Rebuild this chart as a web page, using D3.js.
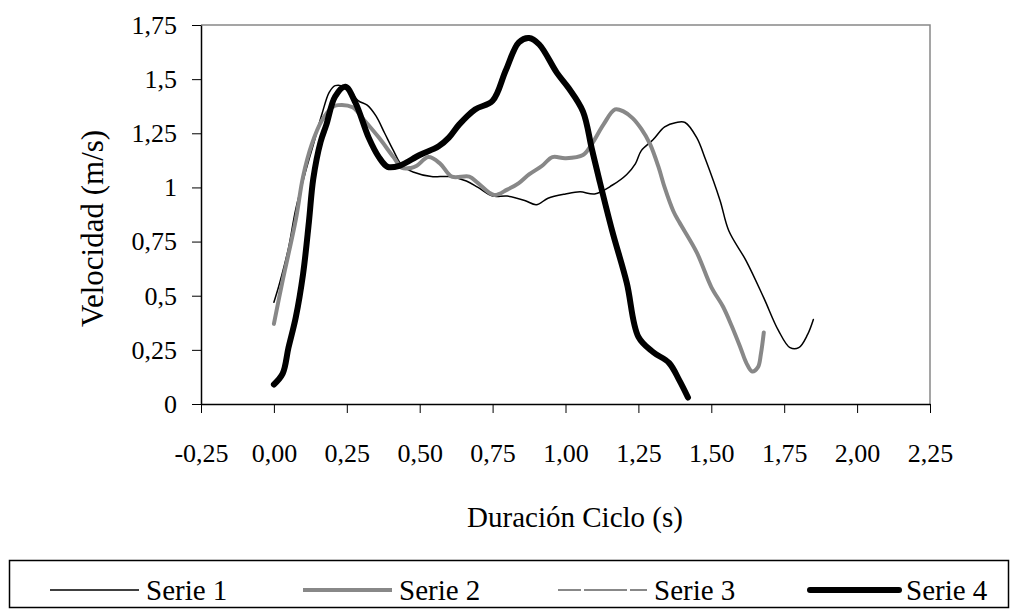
<!DOCTYPE html>
<html>
<head>
<meta charset="utf-8">
<script src="https://cdn.jsdelivr.net/npm/d3@7"></script>
<style>
    html, body { margin: 0; padding: 0; background: #fff; }
    svg { display: block; font-family: "Liberation Serif", "Times New Roman", serif; }
    .axis { font-family: "Liberation Serif", "Times New Roman", serif; }
    .axis path, .axis line { stroke: #000; }
    .axis text { fill: #000; font-size: 26px; }
</style>
</head>
<body>
<div id="chart"></div>
<script>
// ciclo de marcha: [duración (s), velocidad (m/s)]
const serie1 = [
    [0.00, 0.47], [0.02, 0.56], [0.05, 0.72], [0.075, 0.90], [0.11, 1.08], [0.14, 1.22],
    [0.165, 1.34], [0.19, 1.44], [0.21, 1.47], [0.25, 1.46], [0.29, 1.40], [0.32, 1.38],
    [0.35, 1.33], [0.38, 1.25], [0.41, 1.17], [0.44, 1.10], [0.48, 1.07], [0.54, 1.05],
    [0.60, 1.05], [0.66, 1.03], [0.70, 1.00], [0.75, 0.96], [0.80, 0.96], [0.86, 0.94],
    [0.90, 0.92], [0.94, 0.95], [1.00, 0.97], [1.05, 0.98], [1.10, 0.97], [1.16, 1.01],
    [1.21, 1.06], [1.24, 1.11], [1.26, 1.17], [1.30, 1.22], [1.34, 1.28], [1.38, 1.30],
    [1.41, 1.30], [1.45, 1.23], [1.48, 1.13], [1.53, 0.94], [1.56, 0.80], [1.62, 0.66],
    [1.68, 0.49], [1.73, 0.34], [1.77, 0.26], [1.80, 0.26], [1.83, 0.32], [1.85, 0.39]
];

const serie2 = [
    [0.00, 0.37], [0.03, 0.57], [0.075, 0.85], [0.10, 1.05], [0.13, 1.20], [0.165, 1.31],
    [0.20, 1.37], [0.22, 1.38], [0.27, 1.37], [0.31, 1.31], [0.36, 1.23], [0.41, 1.14],
    [0.44, 1.09], [0.47, 1.09], [0.49, 1.10], [0.53, 1.14], [0.57, 1.11], [0.61, 1.05],
    [0.67, 1.05], [0.70, 1.02], [0.755, 0.965], [0.80, 0.99], [0.84, 1.02], [0.875, 1.06],
    [0.92, 1.10], [0.955, 1.14], [1.00, 1.135], [1.06, 1.15], [1.09, 1.20], [1.13, 1.29],
    [1.17, 1.36], [1.20, 1.35], [1.23, 1.32], [1.26, 1.27], [1.29, 1.20], [1.32, 1.09],
    [1.34, 1.00], [1.37, 0.89], [1.39, 0.84], [1.45, 0.70], [1.50, 0.54], [1.54, 0.45],
    [1.57, 0.36], [1.60, 0.26], [1.62, 0.19], [1.64, 0.15], [1.66, 0.17], [1.67, 0.23],
    [1.68, 0.33]
];

// la serie 3 queda tapada por la serie 2 en el gráfico
const serie3 = [
    [0.00, 0.37], [0.03, 0.57], [0.075, 0.85], [0.10, 1.05], [0.13, 1.20], [0.165, 1.31],
    [0.20, 1.37], [0.22, 1.38], [0.27, 1.37], [0.31, 1.31], [0.36, 1.23], [0.41, 1.14],
    [0.44, 1.09], [0.47, 1.09], [0.49, 1.10], [0.53, 1.14], [0.57, 1.11], [0.61, 1.05],
    [0.67, 1.05], [0.70, 1.02], [0.755, 0.965], [0.80, 0.99], [0.84, 1.02], [0.875, 1.06],
    [0.92, 1.10], [0.955, 1.14], [1.00, 1.135], [1.06, 1.15], [1.09, 1.20], [1.13, 1.29],
    [1.17, 1.36], [1.20, 1.35], [1.23, 1.32], [1.26, 1.27], [1.29, 1.20], [1.32, 1.09],
    [1.34, 1.00], [1.37, 0.89], [1.39, 0.84], [1.45, 0.70], [1.50, 0.54], [1.54, 0.45],
    [1.57, 0.36], [1.60, 0.26], [1.62, 0.19], [1.64, 0.15], [1.66, 0.17], [1.67, 0.23],
    [1.68, 0.33]
];

const serie4 = [
    [0.00, 0.09], [0.03, 0.14], [0.05, 0.26], [0.075, 0.40], [0.10, 0.60], [0.12, 0.84],
    [0.135, 1.04], [0.16, 1.21], [0.18, 1.29], [0.21, 1.42], [0.245, 1.465], [0.28, 1.39],
    [0.325, 1.23], [0.36, 1.14], [0.39, 1.095], [0.43, 1.10], [0.50, 1.15], [0.565, 1.19],
    [0.60, 1.23], [0.635, 1.29], [0.69, 1.36], [0.75, 1.40], [0.795, 1.54], [0.84, 1.67],
    [0.875, 1.69], [0.91, 1.66], [0.97, 1.53], [1.01, 1.46], [1.06, 1.35], [1.09, 1.18],
    [1.115, 1.04], [1.16, 0.80], [1.21, 0.56], [1.25, 0.31], [1.30, 0.24], [1.355, 0.19],
    [1.39, 0.11], [1.42, 0.03]
];

const seriesNames = ['Serie 1', 'Serie 2', 'Serie 3', 'Serie 4'];
const xTicks = [-0.25, 0, 0.25, 0.5, 0.75, 1, 1.25, 1.5, 1.75, 2, 2.25];
const yTicks = [0, 0.25, 0.5, 0.75, 1, 1.25, 1.5, 1.75];

const width = 1018;
const height = 612;
const plot = { left: 201, right: 930, top: 25, bottom: 404 };

const styles = [
    { color: '#000', width: 1.5, dash: null },
    { color: '#888', width: 4, dash: null },
    { color: '#888', width: 2, dash: '43 3' },
    { color: '#000', width: 6, dash: null }
];

const es = d3.formatLocale({ decimal: ',', thousands: '.', grouping: [3], currency: ['', ' €'], minus: '-' });

const svg = d3.select('#chart')
    .append('svg')
    .attr('width', width)
    .attr('height', height);

const x = d3.scaleLinear()
    .domain([-0.25, 2.25])
    .range([plot.left, plot.right]);

const y = d3.scaleLinear()
    .domain([0, 1.75])
    .range([plot.bottom, plot.top]);

// borde superior y derecho del área de trazado
svg.append('path')
    .attr('d', `M${plot.left},${plot.top}H${plot.right}V${plot.bottom}`)
    .attr('fill', 'none')
    .attr('stroke', '#888')
    .attr('stroke-width', 1.5);

svg.append('g')
    .attr('class', 'axis')
    .attr('transform', `translate(0,${plot.bottom})`)
    .call(d3.axisBottom(x).tickValues(xTicks).tickSize(9).tickSizeOuter(0).tickPadding(31).tickFormat(es.format('.2f')))
    .call(g => g.attr('font-family', null).attr('font-size', null))
    .call(g => g.select('.domain').attr('stroke-width', 1.5));

svg.append('g')
    .attr('class', 'axis')
    .attr('transform', `translate(${plot.left},0)`)
    .call(d3.axisLeft(y).tickValues(yTicks).tickSize(9).tickSizeOuter(0).tickPadding(15).tickFormat(es.format('~g')))
    .call(g => g.attr('font-family', null).attr('font-size', null))
    .call(g => g.select('.domain').attr('stroke-width', 1.5));

const line = d3.line()
    .curve(d3.curveCatmullRom.alpha(0.5))
    .x(d => x(d[0]))
    .y(d => y(d[1]));

[serie1, serie2, serie3, serie4].forEach((data, i) => {
    svg.append('path')
        .datum(data)
        .attr('fill', 'none')
        .attr('stroke', styles[i].color)
        .attr('stroke-width', styles[i].width)
        .attr('stroke-dasharray', styles[i].dash)
        .attr('stroke-linejoin', 'round')
        .attr('stroke-linecap', 'round')
        .attr('d', line);
});

svg.append('text')
    .attr('x', 575)
    .attr('y', 527)
    .attr('text-anchor', 'middle')
    .attr('font-size', 29)
    .text('Duración Ciclo (s)');

svg.append('clipPath')
    .attr('id', 'ytitle-clip')
    .append('rect')
    .attr('x', 0)
    .attr('y', 131)
    .attr('width', plot.left)
    .attr('height', height);

svg.append('g')
    .attr('clip-path', 'url(#ytitle-clip)')
    .append('text')
    .attr('transform', 'translate(103,327) rotate(-90)')
    .attr('font-size', 31)
    .text('Velocidad (m/s)');

// leyenda
const legend = svg.append('g');

legend.append('rect')
    .attr('x', 9.5)
    .attr('y', 560.5)
    .attr('width', 999)
    .attr('height', 47)
    .attr('fill', 'none')
    .attr('stroke', '#000')
    .attr('stroke-width', 1.5);

const legendX = [50, 303, 558, 810];

seriesNames.forEach((name, i) => {
    const item = legend.append('g')
        .attr('transform', `translate(${legendX[i]},590)`);

    item.append('line')
        .attr('x1', 0)
        .attr('x2', 89)
        .attr('stroke', styles[i].color)
        .attr('stroke-width', styles[i].width)
        .attr('stroke-dasharray', styles[i].dash)
        .attr('stroke-dashoffset', styles[i].dash ? 20 : null)
        .attr('stroke-linecap', i === 3 ? 'round' : 'butt');

    item.append('text')
        .attr('x', 96)
        .attr('y', 10)
        .attr('font-size', 29)
        .text(name);
});
</script>
</body>
</html>
